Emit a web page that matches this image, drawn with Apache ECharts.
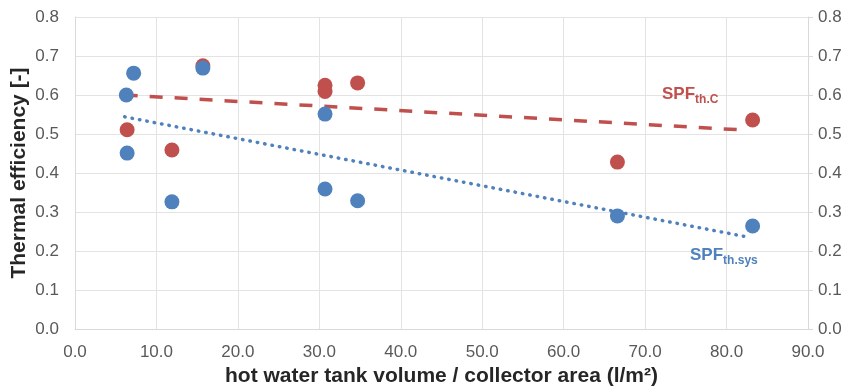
<!DOCTYPE html>
<html>
<head>
<meta charset="utf-8">
<script src="https://cdn.jsdelivr.net/npm/echarts@6/dist/echarts.min.js"></script>
<style>
  html, body { margin: 0; padding: 0; background: #fff; }
  #chart { width: 850px; height: 389px; }
</style>
</head>
<body>
<div id="chart"></div>
<script>
// measured points, x = tank volume / collector area (l/m²)
var sysX = [6.3, 7.2, 6.4, 11.9, 15.7, 30.7, 30.7, 34.7, 66.6, 83.2];
var sysY = [0.600, 0.656, 0.451, 0.326, 0.669, 0.551, 0.359, 0.329, 0.290, 0.264];

var colX = [6.4, 11.9, 15.7, 30.7, 30.7, 34.7, 66.6, 83.2];
var colY = [0.511, 0.459, 0.675, 0.625, 0.609, 0.631, 0.428, 0.536];

// trend lines (start / end)
var trendX = [6.1, 82.3];
var trendColY = [0.600, 0.510];
var trendSysY = [0.544, 0.237];

var xTicks = [0, 10, 20, 30, 40, 50, 60, 70, 80, 90];
var yTicks = [0, 0.1, 0.2, 0.3, 0.4, 0.5, 0.6, 0.7, 0.8];

var RED = '#C0504D', BLUE = '#4F81BD';
var FONT = 'Liberation Sans, Arial, sans-serif';

function pairs(xs, ys) {
    return xs.map(function (x, i) { return [x, ys[i]]; });
}

var chart = echarts.init(document.getElementById('chart'));

var yAxisBase = {
    type: 'value',
    min: yTicks[0],
    max: yTicks[yTicks.length - 1],
    interval: 0.1,
    axisLine: { show: true, lineStyle: { color: '#d9d9d9' } },
    axisLabel: {
        color: '#595959',
        fontSize: 17,
        margin: 16,
        fontFamily: FONT,
        formatter: function (v) { return v.toFixed(1); }
    }
};

var option = {
    backgroundColor: '#fff',
    animation: false,
    grid: { left: 75, right: 42, top: 17, bottom: 60, containLabel: false, outerBoundsMode: 'none' },
    xAxis: {
        type: 'value',
        min: xTicks[0],
        max: xTicks[xTicks.length - 1],
        interval: 10,
        name: 'hot water tank volume / collector area (l/m²)',
        nameLocation: 'middle',
        nameGap: 37,
        nameMoveOverlap: false,
        nameTextStyle: { color: '#262626', fontSize: 21, fontWeight: 'bold', fontFamily: FONT },
        axisLine: { show: true, lineStyle: { color: '#d9d9d9' } },
        axisTick: { show: false },
        splitLine: { show: true, lineStyle: { color: '#e3e3e3' } },
        axisLabel: {
            color: '#595959', fontSize: 17, margin: 15, fontFamily: FONT,
            formatter: function (v) { return v.toFixed(1); }
        }
    },
    yAxis: [
        Object.assign({}, yAxisBase, {
            position: 'left',
            name: 'Thermal efficiency [-]',
            nameLocation: 'middle',
            nameGap: 45,
            nameMoveOverlap: false,
            nameTextStyle: { color: '#262626', fontSize: 21, fontWeight: 'bold', fontFamily: FONT },
            axisTick: { show: false },
            splitLine: { show: true, lineStyle: { color: '#e3e3e3' } }
        }),
        Object.assign({}, yAxisBase, {
            position: 'right',
            axisTick: { show: true, length: 5, lineStyle: { color: '#d9d9d9' } },
            axisLabel: Object.assign({}, yAxisBase.axisLabel, { margin: 10 }),
            splitLine: { show: false }
        })
    ],
    series: [
        {
            name: 'SPF th.C trend',
            type: 'line',
            data: pairs(trendX, trendColY),
            symbol: 'none',
            lineStyle: { color: RED, width: 3.5, type: [13, 12] },
            z: 1
        },
        {
            name: 'SPF th.sys trend',
            type: 'line',
            data: pairs(trendX, trendSysY),
            symbol: 'none',
            lineStyle: { color: BLUE, width: 3.5, type: [0.5, 7], cap: 'round' },
            z: 1
        },
        {
            name: 'SPF th.C',
            type: 'scatter',
            data: pairs(colX, colY),
            symbolSize: 15,
            itemStyle: { color: RED, opacity: 1 },
            z: 2
        },
        {
            name: 'SPF th.sys',
            type: 'scatter',
            data: pairs(sysX, sysY),
            symbolSize: 15,
            itemStyle: { color: BLUE, opacity: 1 },
            z: 3
        }
    ],
    graphic: [
        {
            type: 'text',
            left: 662,
            top: 86,
            z: 100,
            style: {
                text: '{a|SPF}{b|th.C}',
                rich: {
                    a: { fontSize: 17, fontWeight: 'bold', fill: RED, fontFamily: FONT },
                    b: { fontSize: 12, fontWeight: 'bold', fill: RED, fontFamily: FONT, padding: [10, 0, 0, 0] }
                }
            }
        },
        {
            type: 'text',
            left: 690,
            top: 247,
            z: 100,
            style: {
                text: '{a|SPF}{b|th.sys}',
                rich: {
                    a: { fontSize: 17, fontWeight: 'bold', fill: BLUE, fontFamily: FONT },
                    b: { fontSize: 12, fontWeight: 'bold', fill: BLUE, fontFamily: FONT, padding: [10, 0, 0, 0] }
                }
            }
        }
    ]
};

chart.setOption(option);
</script>
</body>
</html>
